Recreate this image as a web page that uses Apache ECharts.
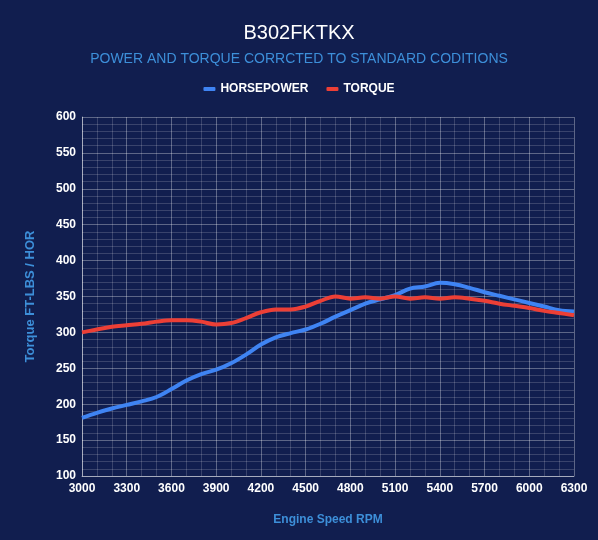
<!DOCTYPE html>
<html>
<head>
<meta charset="utf-8">
<script src="https://cdn.jsdelivr.net/npm/echarts@6/dist/echarts.min.js"></script>
<style>
html,body{margin:0;padding:0;background:#111e4f;}
#c{width:598px;height:540px;}
</style>
</head>
<body>
<div id="c"></div>
<script>
var rpm = [3000,3100,3200,3300,3400,3500,3600,3700,3800,3900,4000,4100,4200,4300,4400,4500,4600,4700,4800,4900,5000,5100,5200,5300,5400,5500,5600,5700,5800,5900,6000,6100,6200,6300];
var horsepower = [181,188,194,199,204,210,221,233,242,248,257,269,283,293,299,304,312,322,331,340,346,352,361,364,369,367,362,356,351,346,341,336,331,329];
var torque = [300,304,308,310,312,315,317,317,315,311,313,320,328,332,332,336,344,350,347,349,347,350,347,349,347,349,347,344,340,337,334,330,327,324];

var hpData = rpm.map(function(r,i){return [r,horsepower[i]];});
var tqData = rpm.map(function(r,i){return [r,torque[i]];});

var chart = echarts.init(document.getElementById('c'));
var font = '"Liberation Sans", Arial, sans-serif';
chart.setOption({
  backgroundColor:'#111e4f',
  animation:false,
  title:[
    {text:'B302FKTKX',left:'center',top:18,textStyle:{color:'#ffffff',fontSize:20,fontWeight:'normal',fontFamily:font}},
    {text:'POWER AND TORQUE CORRCTED TO STANDARD CODITIONS',left:'center',top:47,textStyle:{color:'#3d8fd9',fontSize:14,fontWeight:'normal',fontFamily:font}}
  ],
  legend:{
    top:78,left:'center',itemWidth:12,itemHeight:4,itemGap:18,
    icon:'roundRect',
    textStyle:{color:'#ffffff',fontSize:12,fontWeight:'bold',fontFamily:font},
    data:['HORSEPOWER','TORQUE']
  },
  grid:{left:82,right:24,top:117,bottom:64},
  xAxis:{
    type:'value',min:3000,max:6300,interval:300,
    name:'Engine Speed RPM',nameLocation:'middle',nameGap:38,
    nameTextStyle:{color:'#3d8fd9',fontSize:12,fontWeight:'bold',fontFamily:font},
    axisLine:{show:true,lineStyle:{color:'rgba(255,255,255,0.45)'}},
    axisTick:{show:false},
    axisLabel:{color:'#ffffff',fontSize:12,fontWeight:'bold',fontFamily:font,margin:7,
      formatter:function(v){return String(v);}},
    splitLine:{show:true,lineStyle:{color:'rgba(255,255,255,0.32)',width:1}},
    minorTick:{show:false,splitNumber:3},
    minorSplitLine:{show:true,lineStyle:{color:'rgba(255,255,255,0.17)',width:1}}
  },
  yAxis:{
    type:'value',min:100,max:600,interval:50,
    name:'Torque FT-LBS / HOR',nameLocation:'middle',nameGap:45,
    nameTextStyle:{color:'#3d8fd9',fontSize:13,fontWeight:'bold',fontFamily:font},
    axisLine:{show:true,lineStyle:{color:'rgba(255,255,255,0.45)'}},
    axisTick:{show:false},
    axisLabel:{color:'#ffffff',fontSize:12,fontWeight:'bold',fontFamily:font,margin:6},
    splitLine:{show:true,lineStyle:{color:'rgba(255,255,255,0.32)',width:1}},
    minorTick:{show:false,splitNumber:5},
    minorSplitLine:{show:true,lineStyle:{color:'rgba(255,255,255,0.17)',width:1}}
  },
  series:[
    {name:'HORSEPOWER',type:'line',data:hpData,smooth:0.35,showSymbol:false,symbol:'none',
     itemStyle:{color:'#3f84f3'},lineStyle:{color:'#3f84f3',width:4}},
    {name:'TORQUE',type:'line',data:tqData,smooth:0.35,showSymbol:false,symbol:'none',
     itemStyle:{color:'#ec3f36'},lineStyle:{color:'#ec3f36',width:4}}
  ]
});
</script>
</body>
</html>
